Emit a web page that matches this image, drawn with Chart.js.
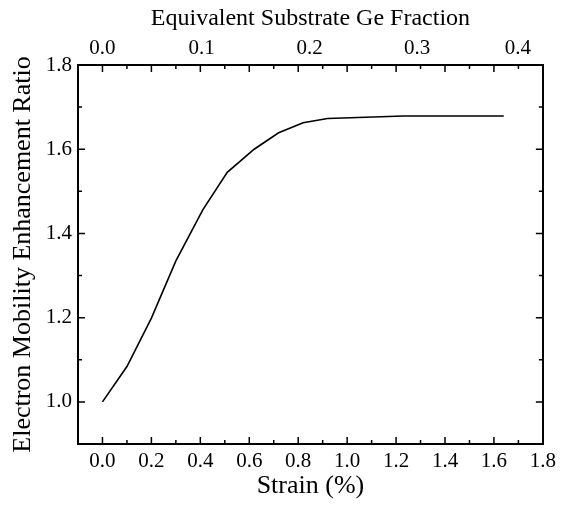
<!DOCTYPE html>
<html>
<head>
<meta charset="utf-8">
<script src="https://cdn.jsdelivr.net/npm/chart.js@4.4.1/dist/chart.umd.min.js"></script>
<style>
html,body{margin:0;padding:0;background:#fff;}
#wrap{width:561px;height:506px;}
</style>
</head>
<body>
<div id="wrap"><canvas id="c" width="561" height="506"></canvas></div>
<script>
// Data
const strain = [0.0, 0.10, 0.20, 0.30, 0.41, 0.51, 0.62, 0.72, 0.82, 0.92, 1.23, 1.64];
const ratio  = [1.000, 1.084, 1.199, 1.335, 1.456, 1.545, 1.600, 1.639, 1.663, 1.673, 1.679, 1.679];

// Tick labels
const strainTicks = [0.0, 0.2, 0.4, 0.6, 0.8, 1.0, 1.2, 1.4, 1.6, 1.8];
const ratioTicks = [1.0, 1.2, 1.4, 1.6, 1.8];
const geLabels = ['0.0', '0.1', '0.2', '0.3', '0.4'];
const geLabelStrainPos = [0.0, 0.405, 0.847, 1.286, 1.698];

const FONT = "'Liberation Serif', 'Times New Roman', serif";

function minorsOf(majors) {
  const out = [];
  for (let i = 0; i < majors.length - 1; i++) out.push((majors[i] + majors[i + 1]) / 2);
  out.unshift(majors[0] - (majors[1] - majors[0]) / 2);
  return out;
}

const inwardTicks = {
  id: 'inwardTicks',
  afterDraw(chart) {
    const ctx = chart.ctx;
    const a = chart.chartArea;
    const xs = chart.scales.x, ys = chart.scales.y;
    const xMin = minorsOf(strainTicks), yMin = minorsOf(ratioTicks);
    ctx.save();
    ctx.strokeStyle = '#000';
    ctx.lineWidth = 1.5;
    const vx = (v, len) => {
      const p = xs.getPixelForValue(v);
      if (p < a.left + 1 || p > a.right - 1) return;
      ctx.beginPath();
      ctx.moveTo(p, a.bottom); ctx.lineTo(p, a.bottom - len);
      ctx.moveTo(p, a.top); ctx.lineTo(p, a.top + len);
      ctx.stroke();
    };
    const vy = (v, len) => {
      const p = ys.getPixelForValue(v);
      if (p < a.top + 1 || p > a.bottom - 1) return;
      ctx.beginPath();
      ctx.moveTo(a.left, p); ctx.lineTo(a.left + len, p);
      ctx.moveTo(a.right, p); ctx.lineTo(a.right - len, p);
      ctx.stroke();
    };
    strainTicks.forEach(v => vx(v, 7));
    xMin.forEach(v => vx(v, 4));
    ratioTicks.forEach(v => vy(v, 7));
    yMin.forEach(v => vy(v, 4));
    ctx.restore();
  }
};

Chart.defaults.font.family = FONT;
Chart.defaults.color = '#000';

new Chart(document.getElementById('c'), {
  type: 'line',
  data: {
    datasets: [{
      data: strain.map((s, i) => ({ x: s, y: ratio[i] })),
      borderColor: '#000',
      borderWidth: 1.6,
      pointRadius: 0,
      tension: 0,
      fill: false
    }]
  },
  options: {
    responsive: false,
    animation: false,
    layout: { padding: 0 },
    plugins: { legend: { display: false }, tooltip: { enabled: false } },
    scales: {
      x: {
        type: 'linear', position: 'bottom', min: -0.1, max: 1.8,
        afterBuildTicks: s => { s.ticks = strainTicks.map(v => ({ value: v })); },
        afterFit: s => { s.height = 62; },
        ticks: { font: { size: 21 }, padding: 5, maxRotation: 0, autoSkip: false,
                 callback: v => Number(v).toFixed(1) },
        grid: { display: false, drawTicks: false },
        border: { display: true, color: '#000', width: 2 },
        title: { display: true, text: 'Strain (%)', font: { size: 26 }, padding: { top: 0, bottom: 4 } }
      },
      x2: {
        type: 'linear', position: 'top', min: -0.1, max: 1.8,
        afterBuildTicks: s => { s.ticks = geLabelStrainPos.map(v => ({ value: v })); },
        afterFit: s => { s.height = 65; },
        ticks: { font: { size: 21 }, padding: 4, maxRotation: 0, autoSkip: false,
                 callback: (v, i) => geLabels[i] },
        grid: { display: false, drawTicks: false },
        border: { display: true, color: '#000', width: 2 },
        title: { display: true, text: 'Equivalent Substrate Ge Fraction', font: { size: 24 }, padding: { top: 4, bottom: 0 } }
      },
      y: {
        type: 'linear', position: 'left', min: 0.9, max: 1.8,
        afterBuildTicks: s => { s.ticks = ratioTicks.map(v => ({ value: v })); },
        afterFit: s => { s.width = 78; },
        ticks: { font: { size: 21 }, padding: 6, callback: v => Number(v).toFixed(1) },
        grid: { display: false, drawTicks: false },
        border: { display: true, color: '#000', width: 2 },
        title: { display: true, text: 'Electron Mobility Enhancement Ratio', font: { size: 26 }, padding: { top: 8, bottom: 0 } }
      },
      y2: {
        type: 'linear', position: 'right', min: 0.9, max: 1.8,
        afterFit: s => { s.width = 14; },
        ticks: { display: false },
        grid: { display: false, drawTicks: false },
        border: { display: true, color: '#000', width: 2 }
      }
    }
  },
  plugins: [inwardTicks]
});
</script>
</body>
</html>
